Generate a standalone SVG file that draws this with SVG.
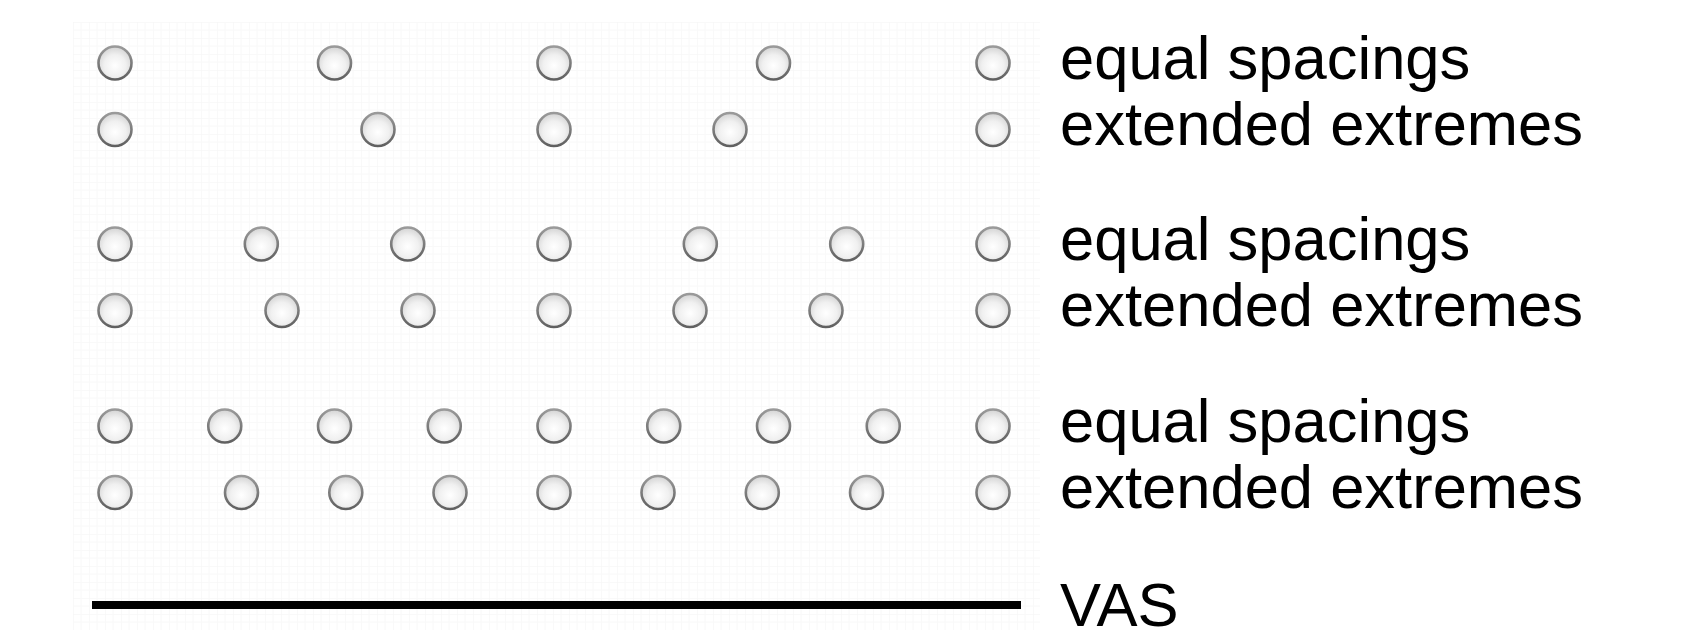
<svg xmlns="http://www.w3.org/2000/svg" width="1682" height="630" viewBox="0 0 1682 630">
<style>
.lbl{font-family:"Liberation Sans",Arial,sans-serif;font-size:61.5px;fill:#000}
.dot{fill:url(#dotFill);stroke:url(#dotStroke);stroke-width:2.6}
</style>
<defs>
<radialGradient id="dotFill" cx="0.5" cy="0.58" r="0.55">
<stop offset="0" stop-color="#ffffff"/>
<stop offset="0.6" stop-color="#f0f0f0"/>
<stop offset="1" stop-color="#d6d6d6"/>
</radialGradient>
<linearGradient id="dotStroke" x1="0" y1="0" x2="0" y2="1">
<stop offset="0" stop-color="#9a9a9a"/>
<stop offset="1" stop-color="#606060"/>
</linearGradient>
<pattern id="grid" x="73" y="22" width="16" height="16" patternUnits="userSpaceOnUse">
<path d="M0 0V16M0 0H16" fill="none" stroke="#f3f3f3" stroke-width="1"/>
<path d="M8 0V16M0 8H16" fill="none" stroke="#f8f8f8" stroke-width="1"/>
</pattern>
</defs>
<rect width="1682" height="630" fill="#fff"/>
<rect x="73" y="22" width="967" height="608" fill="url(#grid)"/>
<g id="row1">
<circle class="dot" cx="115" cy="63" r="16.5"/><circle class="dot" cx="334.5" cy="63" r="16.5"/><circle class="dot" cx="554" cy="63" r="16.5"/><circle class="dot" cx="773.5" cy="63" r="16.5"/><circle class="dot" cx="993" cy="63" r="16.5"/>
<text class="lbl" x="1060" y="78.5">equal spacings</text>
</g>
<g id="row2">
<circle class="dot" cx="115" cy="129.5" r="16.5"/><circle class="dot" cx="378" cy="129.5" r="16.5"/><circle class="dot" cx="554" cy="129.5" r="16.5"/><circle class="dot" cx="730" cy="129.5" r="16.5"/><circle class="dot" cx="993" cy="129.5" r="16.5"/>
<text class="lbl" x="1060" y="145">extended extremes</text>
</g>
<g id="row3">
<circle class="dot" cx="115" cy="244" r="16.5"/><circle class="dot" cx="261.3" cy="244" r="16.5"/><circle class="dot" cx="407.7" cy="244" r="16.5"/><circle class="dot" cx="554" cy="244" r="16.5"/><circle class="dot" cx="700.3" cy="244" r="16.5"/><circle class="dot" cx="846.7" cy="244" r="16.5"/><circle class="dot" cx="993" cy="244" r="16.5"/>
<text class="lbl" x="1060" y="259.5">equal spacings</text>
</g>
<g id="row4">
<circle class="dot" cx="115" cy="310.5" r="16.5"/><circle class="dot" cx="282" cy="310.5" r="16.5"/><circle class="dot" cx="418" cy="310.5" r="16.5"/><circle class="dot" cx="554" cy="310.5" r="16.5"/><circle class="dot" cx="690" cy="310.5" r="16.5"/><circle class="dot" cx="826" cy="310.5" r="16.5"/><circle class="dot" cx="993" cy="310.5" r="16.5"/>
<text class="lbl" x="1060" y="326">extended extremes</text>
</g>
<g id="row5">
<circle class="dot" cx="115" cy="426" r="16.5"/><circle class="dot" cx="224.75" cy="426" r="16.5"/><circle class="dot" cx="334.5" cy="426" r="16.5"/><circle class="dot" cx="444.25" cy="426" r="16.5"/><circle class="dot" cx="554" cy="426" r="16.5"/><circle class="dot" cx="663.75" cy="426" r="16.5"/><circle class="dot" cx="773.5" cy="426" r="16.5"/><circle class="dot" cx="883.25" cy="426" r="16.5"/><circle class="dot" cx="993" cy="426" r="16.5"/>
<text class="lbl" x="1060" y="441.5">equal spacings</text>
</g>
<g id="row6">
<circle class="dot" cx="115" cy="492.5" r="16.5"/><circle class="dot" cx="241.5" cy="492.5" r="16.5"/><circle class="dot" cx="345.8" cy="492.5" r="16.5"/><circle class="dot" cx="450" cy="492.5" r="16.5"/><circle class="dot" cx="554" cy="492.5" r="16.5"/><circle class="dot" cx="658" cy="492.5" r="16.5"/><circle class="dot" cx="762.3" cy="492.5" r="16.5"/><circle class="dot" cx="866.5" cy="492.5" r="16.5"/><circle class="dot" cx="993" cy="492.5" r="16.5"/>
<text class="lbl" x="1060" y="508">extended extremes</text>
</g>
<g id="vas">
<line x1="92" y1="605" x2="1021" y2="605" stroke="#000" stroke-width="8"/>
<text class="lbl" x="1060" y="626">VAS</text>
</g>
</svg>
